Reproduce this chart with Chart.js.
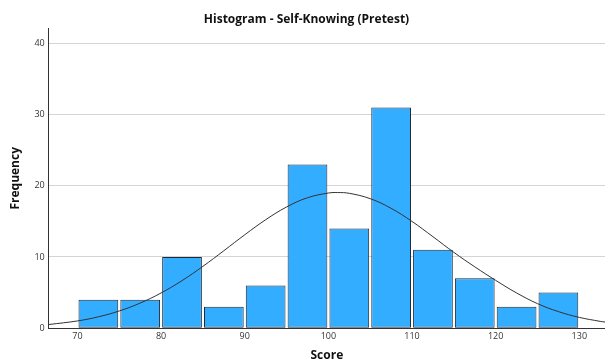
<!DOCTYPE html>
<html>
<head>
<meta charset="utf-8">
<script src="https://cdn.jsdelivr.net/npm/chart.js@4.4.1/dist/chart.umd.min.js"></script>
<style>
  html, body { margin: 0; padding: 0; background: #fff; }
  #wrap { width: 605px; height: 362px; }
</style>
</head>
<body>
<div id="wrap"><canvas id="c" width="605" height="362"></canvas></div>
<script>
// Score bins (midpoints, width 5) and their counts
const binMids = [72.5, 77.5, 82.5, 87.5, 92.5, 97.5, 102.5, 107.5, 112.5, 117.5, 122.5, 127.5];
const counts  = [4, 4, 10, 3, 6, 23, 14, 31, 11, 7, 3, 5];

// Fitted normal curve, sampled along the score axis
const curveX = [66.6, 70, 72.5, 75, 77.5, 80, 82.5, 85, 87.5, 90, 92.5, 95, 97.5, 100, 101.1,
                102.5, 105, 107.5, 110, 112.5, 115, 117.5, 120, 122.5, 125, 127.5, 130, 132.5, 133.1];
const curveY = [0.52, 1.02, 1.6, 2.42, 3.53, 4.95, 6.68, 8.69, 10.88, 13.12, 15.23, 17.02, 18.32, 18.98, 19.05,
                18.94, 18.19, 16.83, 14.99, 12.85, 10.65, 8.62, 6.72, 4.95, 3.45, 2.33, 1.52, 0.96, 0.86];

const yTicks = [0, 10, 20, 30, 40];
const xTicks = [70, 80, 90, 100, 110, 120, 130];

const font = '"Open Sans", "Liberation Sans", sans-serif';

new Chart(document.getElementById('c'), {
  type: 'bar',
  data: {
    datasets: [
      {
        type: 'line',
        data: curveX.map((x, i) => ({ x, y: curveY[i] })),
        borderColor: '#333333',
        borderWidth: 1,
        pointRadius: 0,
        tension: 0.4,
        fill: false,
        order: 0
      },
      {
        type: 'bar',
        data: binMids.map((x, i) => ({ x, y: counts[i] })),
        backgroundColor: '#33adff',
        borderColor: '#1f2a33',
        borderWidth: 1,
        borderSkipped: false,
        barPercentage: 1,
        categoryPercentage: 0.95,
        order: 1
      }
    ]
  },
  options: {
    responsive: false,
    animation: false,
    layout: { padding: { left: 8, right: 0, top: 4, bottom: 0 } },
    plugins: {
      legend: { display: false },
      tooltip: { enabled: false },
      title: {
        display: true,
        text: 'Histogram - Self-Knowing (Pretest)',
        color: '#111',
        font: { family: font, size: 12, weight: 'bold' },
        padding: { top: 8, bottom: 2 }
      }
    },
    scales: {
      x: {
        type: 'linear',
        min: 66.56,
        max: 133.07,
        offset: false,
        grid: { display: false, drawTicks: false },
        border: { display: true, color: '#333', width: 1 },
        afterBuildTicks: (axis) => { axis.ticks = xTicks.map(v => ({ value: v })); },
        ticks: {
          includeBounds: false,
          color: '#333',
          padding: 3,
          font: { family: font, size: 9 }
        },
        title: {
          display: true,
          text: 'Score',
          color: '#111',
          font: { family: font, size: 12, weight: 'bold', lineHeight: 1 },
          padding: { top: 5, bottom: 0 }
        }
      },
      y: {
        min: 0,
        max: 42.1,
        grid: { color: '#d4d4d4', drawTicks: false, lineWidth: 1 },
        border: { display: true, color: '#333', width: 1 },
        afterBuildTicks: (axis) => { axis.ticks = yTicks.map(v => ({ value: v })); },
        ticks: {
          color: '#333',
          padding: 4,
          font: { family: font, size: 9 }
        },
        title: {
          display: true,
          text: 'Frequency',
          color: '#111',
          font: { family: font, size: 12, weight: 'bold' },
          padding: { top: 0, bottom: 8 }
        }
      }
    }
  }
});
</script>
</body>
</html>
